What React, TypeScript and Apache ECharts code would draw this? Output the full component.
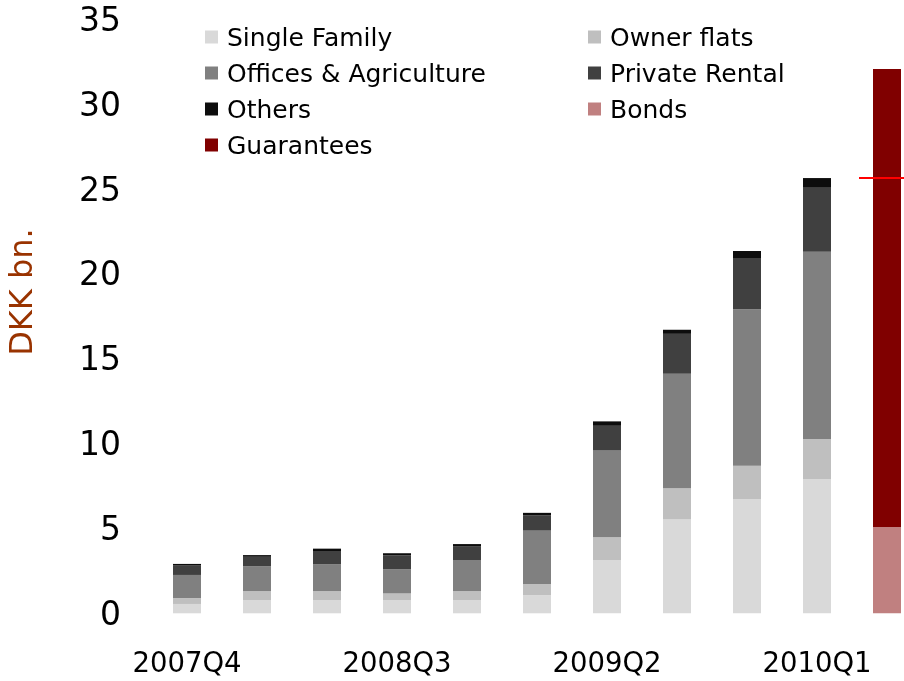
import React, { useEffect, useRef } from "react";
import * as echarts from "echarts";

const categories = ["2007Q4", "2008Q1", "2008Q2", "2008Q3", "2008Q4", "2009Q1", "2009Q2", "2009Q3", "2009Q4", "2010Q1", ""];
const singleFamily = [0.55, 0.78, 0.78, 0.78, 0.78, 1.06, 3.14, 5.54, 6.72, 7.9, null];
const ownerFlats = [0.35, 0.53, 0.53, 0.39, 0.53, 0.67, 1.34, 1.83, 1.98, 2.37, null];
const officesAgri = [1.36, 1.47, 1.59, 1.43, 1.83, 3.14, 5.14, 6.74, 9.22, 11.04, null];
const privateRental = [0.55, 0.55, 0.77, 0.82, 0.82, 0.91, 1.43, 2.36, 3.02, 3.81, null];
const others = [0.1, 0.1, 0.14, 0.12, 0.12, 0.14, 0.26, 0.24, 0.41, 0.53, null];
const bonds = [null, null, null, null, null, null, null, null, null, null, 5.09];
const guarantees = [null, null, null, null, null, null, null, null, null, null, 26.99];
// reference level (total exposure 2010Q1) drawn across the last column
const refLevel = 25.65;
const refLineX = [9.6, 10.5];

const FONT = "DejaVu Sans";

export default function App() {
  const ref = useRef<HTMLDivElement>(null);
  useEffect(() => {
    if (!ref.current) return;
    const chart = echarts.init(ref.current, null, { renderer: "svg" });
    const barCommon = { type: "bar", stack: "total", barWidth: 28, xAxisIndex: 0, yAxisIndex: 0 };
    const legendCommon = {
      orient: "vertical",
      top: 24.5,
      padding: 0,
      itemWidth: 13,
      itemHeight: 13,
      itemGap: 11,
      icon: "rect",
      textStyle: { fontFamily: FONT, fontSize: 25, color: "#000", lineHeight: 25, padding: [0, 0, 0, 4] },
    };
    chart.setOption({
      animation: false,
      textStyle: { fontFamily: FONT },
      grid: { left: 152, top: 19.4, right: 0, height: 593.9 },
      legend: [
        { ...legendCommon, left: 205, data: ["Single Family", "Offices & Agriculture", "Others", "Guarantees"] },
        { ...legendCommon, left: 588, data: ["Owner flats", "Private Rental", "Bonds"] },
      ],
      xAxis: [
        {
          type: "category",
          data: categories,
          axisLine: { show: false },
          axisTick: { show: false },
          axisLabel: { interval: 2, color: "#000", fontSize: 27.5, fontFamily: FONT, margin: 35 },
        },
        {
          type: "value",
          min: -0.5,
          max: 10.5,
          show: false,
        },
      ],
      yAxis: {
        type: "value",
        min: 0,
        max: 35,
        interval: 5,
        axisLine: { show: false },
        axisTick: { show: false },
        splitLine: { show: false },
        axisLabel: { color: "#000", fontSize: 33, fontFamily: FONT, margin: 31 },
      },
      graphic: [
        {
          type: "text",
          x: 21,
          y: 292,
          rotation: Math.PI / 2,
          style: {
            text: "DKK bn.",
            fill: "#993300",
            font: `32px "${FONT}"`,
            align: "center",
            verticalAlign: "middle",
          },
        },
      ],
      series: [
        { ...barCommon, name: "Single Family", data: singleFamily, itemStyle: { color: "#d9d9d9" } },
        { ...barCommon, name: "Owner flats", data: ownerFlats, itemStyle: { color: "#bfbfbf" } },
        { ...barCommon, name: "Offices & Agriculture", data: officesAgri, itemStyle: { color: "#808080" } },
        { ...barCommon, name: "Private Rental", data: privateRental, itemStyle: { color: "#404040" } },
        { ...barCommon, name: "Others", data: others, itemStyle: { color: "#0d0d0d" } },
        { ...barCommon, name: "Bonds", data: bonds, itemStyle: { color: "#c08080" } },
        { ...barCommon, name: "Guarantees", data: guarantees, itemStyle: { color: "#800000" } },
        {
          type: "line",
          name: "ref",
          xAxisIndex: 1,
          yAxisIndex: 0,
          data: refLineX.map((x) => [x, refLevel]),
          symbol: "none",
          lineStyle: { color: "#ff0000", width: 2 },
          silent: true,
          z: 5,
        },
      ],
    });
    return () => chart.dispose();
  }, []);
  return (
    <div style={{ position: "fixed", left: 0, top: 0, width: 904, height: 681, overflow: "hidden" }}>
      <div ref={ref} style={{ width: 922, height: 681 }} />
    </div>
  );
}
